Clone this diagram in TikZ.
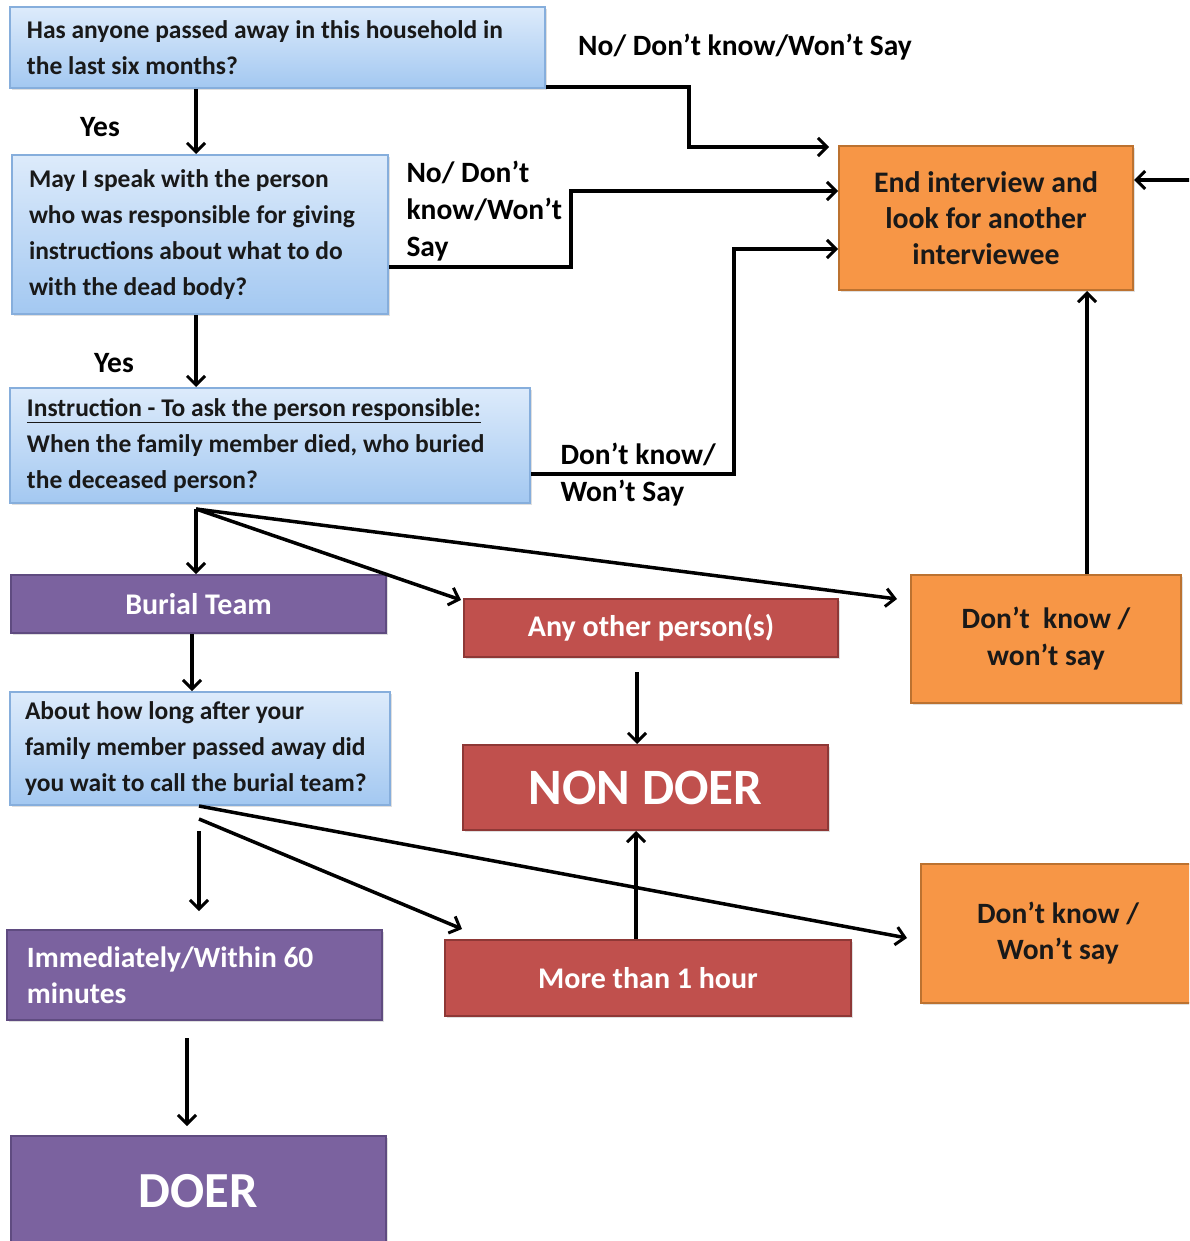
\documentclass[tikz,border=0pt]{standalone}
\usepackage{fontspec}
\setmainfont{Carlito}
\usetikzlibrary{arrows.meta,shadows,calc}
\definecolor{bluetop}{HTML}{DDEBFB}
\definecolor{bluebot}{HTML}{A3C8F1}
\definecolor{blueedge}{HTML}{86AEDC}
\definecolor{purp}{HTML}{7B629F}
\definecolor{purpedge}{HTML}{5F4B80}
\definecolor{redb}{HTML}{C0504D}
\definecolor{rededge}{HTML}{8E3836}
\definecolor{orng}{HTML}{F79646}
\definecolor{orngedge}{HTML}{BC7230}
\tikzset{
  base/.style={inner sep=0pt, line width=2pt, font=\bfseries,
    drop shadow={opacity=0.25, shadow xshift=2pt, shadow yshift=-2pt}},
  qbox/.style={base, draw=blueedge, top color=bluetop, bottom color=bluebot,
    inner xsep=17pt, align=flush left, text=black!90,
    font=\bfseries\fontsize{25.5}{36}\selectfont},
  pbox/.style={base, draw=purpedge, fill=purp, text=white},
  rbox/.style={base, draw=rededge, fill=redb, text=white},
  obox/.style={base, draw=orngedge, fill=orng, text=black!90, align=center},
  lbl/.style={font=\bfseries\fontsize{29.5}{37}\selectfont, align=left, text=black},
  arr/.style={line width=3.5pt, -{Straight Barb[length=9pt,width=18pt,line width=3pt]}}
}
\begin{document}
\begin{tikzpicture}[x=1pt,y=-1pt]
\useasboundingbox (0,0) rectangle (1189,1241);
\clip (0,0) rectangle (1189,1241);
\fill[white] (0,0) rectangle (1189,1241);

% question boxes
\node[qbox, text width=501pt, minimum height=81pt] (q1) at (277.5,47.5)
  {Has anyone passed away in this household in\\the last six months?};
\node[qbox, text width=342pt, minimum height=159pt] (q2) at (200,234.5)
  {May I speak with the person\\who was responsible for giving\\instructions about what to do\\with the dead body?};
\node[qbox, text width=486pt, minimum height=115pt] (q3) at (270,445.5)
  {\underline{Instruction - To ask the person responsible:}\\When the family member died, who buried\\the deceased person?};
\node[qbox, inner xsep=15pt, text width=350pt, minimum height=113pt] (q4) at (200,748.5)
  {About how long after your\\family member passed away did\\you wait to call the burial team?};

% outcome boxes
\node[pbox, minimum width=375pt, minimum height=58pt, font=\bfseries\fontsize{30}{32}\selectfont] (burial) at (198.5,604) {Burial Team};
\node[rbox, minimum width=374pt, minimum height=58pt, font=\bfseries\fontsize{30}{32}\selectfont] (other) at (651,628) {Any other person(s)};
\node[obox, minimum width=270pt, minimum height=128pt, font=\bfseries\fontsize{29.5}{37}\selectfont] (dk1) at (1046,639) {Don't\ \ know /\\won't say};
\node[obox, minimum width=294pt, minimum height=144pt, font=\bfseries\fontsize{29.8}{36}\selectfont] (end) at (986,218) {End interview and\\look for another\\interviewee};
\node[rbox, minimum width=365pt, minimum height=85pt, font=\bfseries\fontsize{51}{54}\selectfont] (nondoer) at (645.5,787.5) {NON DOER};
\node[pbox, minimum width=375pt, minimum height=90pt, inner xsep=20pt, text width=335pt, align=flush left, font=\bfseries\fontsize{29.5}{36}\selectfont] (imm) at (194.5,975) {Immediately/Within 60\\minutes};
\node[rbox, minimum width=406pt, minimum height=76pt, font=\bfseries\fontsize{30}{32}\selectfont] (more) at (648,978) {More than 1 hour};
\node[obox, minimum width=274pt, minimum height=139pt, font=\bfseries\fontsize{29.5}{36}\selectfont] (dk2) at (1058,933.5) {Don't know /\\Won't say};
\node[pbox, minimum width=375pt, minimum height=110pt, font=\bfseries\fontsize{50.5}{54}\selectfont] (doer) at (198.5,1191) {DOER};

% labels
\node[lbl] (yes1) at (100,127) {Yes};
\node[lbl] (yes2) at (114,363) {Yes};
\node[lbl] (no1) at (745,47) {No/ Don't know/Won't Say};
\node[lbl, anchor=west] (no2) at (403,211) {No/ Don't\\know/Won't\\Say};
\node[lbl, anchor=west] (no3) at (557,475) {Don't know/\\Won't Say};

% connectors
\draw[arr] ([xshift=187pt]q1.south west) -- ([xshift=185pt]q2.north west);
\draw[arr] ([yshift=2pt]q1.south east) -- ++(143,0) |- ([xshift=-9pt,yshift=-2pt]end.north west);
\draw[arr] ([yshift=-32.5pt]q2.east) -- ++(182,0) |- ([yshift=27pt]end.west);
\draw[arr] ([xshift=185pt]q2.south west) -- ([xshift=187pt]q3.north west);
\draw[arr] ([yshift=-28.5pt]q3.east) -- ++(203,0) |- ([yshift=-31pt]end.west);

\coordinate (hub) at ([xshift=187pt,yshift=-5pt]q3.south west);
\draw[arr] (hub) -- ([xshift=186pt]burial.north west);
\draw[arr] (hub) -- ([xshift=-2pt,yshift=-2pt]other.north west);
\draw[arr] (hub) -- ([xshift=-13pt,yshift=-25pt]dk1.north west);

\draw[arr] ([xshift=177pt]dk1.north west) -- ([xshift=249pt]end.south west);
\coordinate (rin) at (1195,180);
\draw[arr] (rin) -- ([yshift=38pt]end.east);

\draw[arr] ([xshift=182pt]burial.south west) -- ([xshift=183pt]q4.north west);
\draw[arr] ([xshift=-14pt,yshift=-14pt]other.south) -- ([xshift=-8.5pt]nondoer.north);

\draw[arr] ([xshift=190pt]q4.south west) -- ([xshift=-13pt,yshift=-4.5pt]dk2.west);
\draw[arr] ([xshift=190pt,yshift=-13pt]q4.south west) -- ([xshift=18pt,yshift=10pt]more.north west);
\draw[arr] ([xshift=190pt,yshift=-25pt]q4.south west) -- ([xshift=193pt,yshift=18pt]imm.north west);

\draw[arr] ([xshift=-12pt]more.north) -- ([xshift=-9.5pt]nondoer.south);
\draw[arr] ([xshift=181pt,yshift=-17pt]imm.south west) -- ([xshift=177pt,yshift=9pt]doer.north west);
\end{tikzpicture}
\end{document}
